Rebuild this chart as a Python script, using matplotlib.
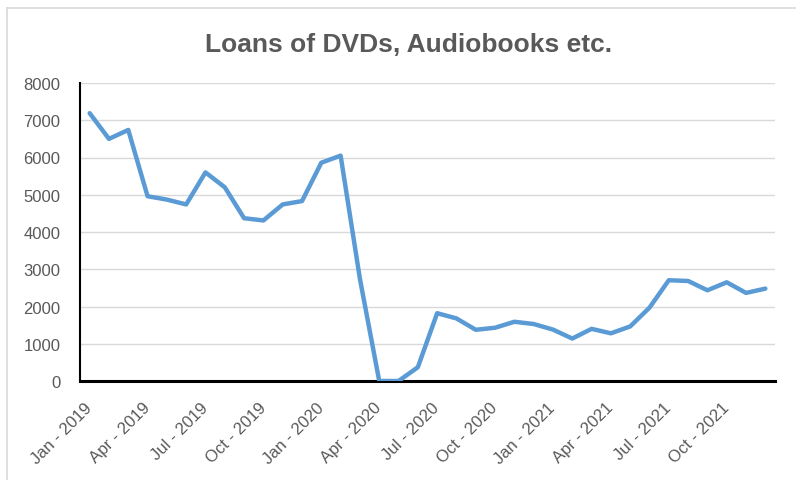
import matplotlib.pyplot as plt
import matplotlib.transforms as mtransforms
from matplotlib.lines import Line2D

# monthly loans, Jan 2019 .. Dec 2021
months = ['Jan', 'Feb', 'Mar', 'Apr', 'May', 'Jun',
          'Jul', 'Aug', 'Sep', 'Oct', 'Nov', 'Dec']
years = [2019, 2020, 2021]
labels = [f'{m} - {y}' for y in years for m in months]

loans = [7190, 6500, 6740, 4960, 4870, 4740, 5600, 5200, 4370, 4310, 4740, 4830,
         5860, 6050, 2740, 0, 0, 370, 1820, 1680, 1375, 1430, 1590, 1530,
         1380, 1140, 1400, 1280, 1465, 1970, 2705, 2685, 2435, 2650, 2365, 2480]

plt.rcParams['font.family'] = ['Liberation Sans', 'DejaVu Sans']
grey = '#595959'

fig = plt.figure(figsize=(7.96, 4.81), dpi=100)
ax = fig.add_axes([80 / 796, 1 - 382 / 481, 695 / 796, 298 / 481])

x = list(range(len(loans)))
ax.plot(x, loans, color='#5B9BD5', linewidth=3.2, solid_joinstyle='round',
        solid_capstyle='round', zorder=3)

ax.set_xlim(-0.5, len(loans) - 0.5)
ax.set_ylim(0, 8000)
ax.set_yticks(range(0, 8001, 1000))
ax.yaxis.grid(True, color='#D9D9D9', linewidth=1)
ax.set_axisbelow(True)

ax.set_xticks(x[::3])
ax.set_xticklabels(labels[::3], rotation=45, ha='right', va='center',
                   rotation_mode='anchor')
offset = mtransforms.ScaledTranslation(7 / 100, 0, fig.dpi_scale_trans)
for lbl in ax.get_xticklabels():
    lbl.set_transform(lbl.get_transform() + offset)

ax.tick_params(axis='both', length=0, labelsize=12, labelcolor=grey)
ax.tick_params(axis='x', pad=17)
ax.tick_params(axis='y', pad=14)

for side in ['top', 'right']:
    ax.spines[side].set_visible(False)
ax.spines['left'].set_linewidth(1.5)
ax.spines['bottom'].set_linewidth(2.2)
ax.spines['left'].set_color('black')
ax.spines['bottom'].set_color('black')

fig.text(409 / 796, 1 - 52 / 481, 'Loans of DVDs, Audiobooks etc.',
         ha='center', va='baseline', fontsize=19, fontweight='bold', color=grey)

# chart border (partly off-canvas)
fig.add_artist(Line2D([7 / 796, 7 / 796], [0, 1 - 9 / 481],
                      transform=fig.transFigure, color='#D9D9D9', linewidth=1.2))
fig.add_artist(Line2D([7 / 796, 1], [1 - 9 / 481, 1 - 9 / 481],
                      transform=fig.transFigure, color='#D9D9D9', linewidth=1.2))

fig.savefig('out.png', dpi=100)
